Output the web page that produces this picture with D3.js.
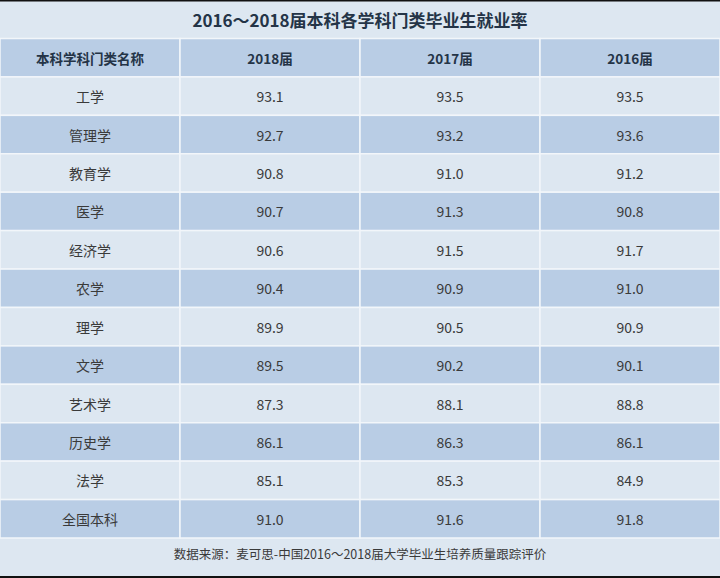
<!DOCTYPE html><html><head><meta charset="utf-8"><script src="https://cdn.jsdelivr.net/npm/d3@7"></script>
<style>body{margin:0;background:#fff}svg{display:block}</style></head><body><svg id="c" width="720" height="578"></svg>
<script>
const title = "2016～2018届本科各学科门类毕业生就业率";
const headers = ["本科学科门类名称","2018届","2017届","2016届"];
const categories = ["工学","管理学","教育学","医学","经济学","农学","理学","文学","艺术学","历史学","法学","全国本科"];
const v2018 = [93.1,92.7,90.8,90.7,90.6,90.4,89.9,89.5,87.3,86.1,85.1,91.0];
const v2017 = [93.5,93.2,91.0,91.3,91.5,90.9,90.5,90.2,88.1,86.3,85.3,91.6];
const v2016 = [93.5,93.6,91.2,90.8,91.7,91.0,90.9,90.1,88.8,86.1,84.9,91.8];
const source = "数据来源：麦可思-中国2016～2018届大学毕业生培养质量跟踪评价";

const svg = d3.select("#c");
const font = "'Microsoft YaHei','Noto Sans CJK SC',sans-serif";
const light = "#dde7f1", dark = "#b9cde5";
svg.append("rect").attr("width",720).attr("height",578).attr("fill",light);
const x = d3.scaleBand().domain(d3.range(4)).range([0,720]);
const y = d3.scaleBand().domain(d3.range(13)).range([38.5,538]);
svg.append("text").attr("x",360).attr("y",19).attr("text-anchor","middle").attr("dominant-baseline","central")
  .attr("font-family",font).attr("font-weight","bold").attr("font-size",17).attr("fill","#243447").text(title);
const rows = [headers].concat(categories.map((c,i)=>[c,v2018[i].toFixed(1),v2017[i].toFixed(1),v2016[i].toFixed(1)]));
rows.forEach((r,i)=>{
  const g = svg.append("g");
  r.forEach((t,j)=>{
    g.append("rect").attr("x",x(j)).attr("y",y(i)).attr("width",x.bandwidth()).attr("height",y.bandwidth())
      .attr("fill", i%2===0?dark:light).attr("stroke","#f2f6fa").attr("stroke-width",1.5);
    g.append("text").attr("x",x(j)+x.bandwidth()/2).attr("y",y(i)+y.bandwidth()/2).attr("text-anchor","middle")
      .attr("dominant-baseline","central").attr("font-family",font).attr("font-size",i===0?13.5:14)
      .attr("font-weight",i===0?"bold":"normal").attr("fill",i===0?"#243447":"#3a3a3a").text(t);
  });
});
svg.append("text").attr("x",360).attr("y",553).attr("text-anchor","middle").attr("dominant-baseline","central")
  .attr("font-family",font).attr("font-size",12.5).attr("fill","#3a3a3a").text(source);
svg.append("rect").attr("x",0).attr("y",0).attr("width",720).attr("height",1.5).attr("fill","#111");
svg.append("rect").attr("x",0).attr("y",576).attr("width",720).attr("height",2).attr("fill","#111");
</script></body></html>
